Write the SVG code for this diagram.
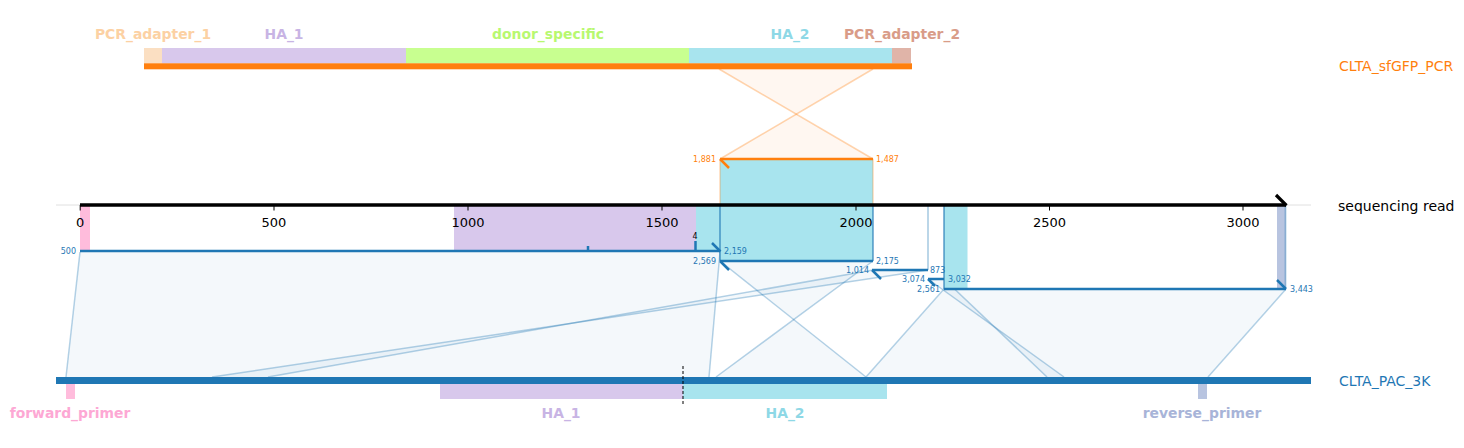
<svg xmlns="http://www.w3.org/2000/svg" width="1464" height="448" viewBox="0 0 1464 448">
<style>
text{font-family:"DejaVu Sans","Liberation Sans",sans-serif}
.feat{font-weight:bold;font-size:13.9px;text-anchor:middle}
.tick{font-size:13px;text-anchor:middle;fill:#000}
.num{font-size:8px;fill:#1f77b4}
.onum{font-size:8px;fill:#ff7f0e}
.ref{font-size:14px}
.aln{stroke:#1f77b4;stroke-width:2.5;fill:none}
.conn{stroke:#1f77b4;stroke-opacity:0.33;stroke-width:1.5;fill:none}
.cfill{fill:#1f77b4;fill-opacity:0.05;stroke:none}
.oconn{stroke:#ff7f0e;stroke-opacity:0.33;stroke-width:1.5;fill:none}
.ofill{fill:#ff7f0e;fill-opacity:0.06;stroke:none}
.edge{stroke:#1f77b4;stroke-opacity:0.55;stroke-width:2}
.ledge{stroke:#1f77b4;stroke-opacity:0.3;stroke-width:2}
</style>
<rect width="1464" height="448" fill="#fff"/>

<g id="connectors">
  <polygon class="ofill" points="720,159 873,159 719,69 873,69"/>
  <line class="oconn" x1="720" y1="159" x2="873" y2="69"/>
  <line class="oconn" x1="873" y1="159" x2="719" y2="69"/>

  <polygon class="cfill" points="80,252 720,252 709,377 66,377"/>
  <line class="conn" x1="80" y1="252" x2="66" y2="377"/>
  <line class="conn" x1="720" y1="252" x2="709" y2="377"/>

  <polygon class="cfill" points="720,261 873,261 716,377 866,377"/>
  <line class="conn" x1="720" y1="261" x2="866" y2="377"/>
  <line class="conn" x1="873" y1="261" x2="716" y2="377"/>

  <polygon class="cfill" points="873,270 928,270 212,377 268,377"/>
  <line class="conn" x1="873" y1="270" x2="268" y2="377"/>
  <line class="conn" x1="928" y1="270" x2="212" y2="377"/>

  <polygon class="cfill" points="928,279 944,279 1047,377 1064,377"/>
  <line class="conn" x1="928" y1="279" x2="1064" y2="377"/>
  <line class="conn" x1="944" y1="279" x2="1047" y2="377"/>

  <polygon class="cfill" points="944,289 1286,289 1208,377 866,377"/>
  <line class="conn" x1="944" y1="289" x2="866" y2="377"/>
  <line class="conn" x1="1286" y1="289" x2="1208" y2="377"/>
</g>

<g id="ref-top">
  <rect x="144" y="48" width="18" height="15.5" fill="#fbdfc2"/>
  <rect x="162" y="48" width="244" height="15.5" fill="#d8c8ec"/>
  <rect x="406" y="48" width="283" height="15.5" fill="#c8ff90"/>
  <rect x="689" y="48" width="203" height="15.5" fill="#a8e4ee"/>
  <rect x="892" y="48" width="19" height="15.5" fill="#e0b4a8"/>
  <rect x="144" y="63.3" width="768" height="6" fill="#ff7f0e"/>
  <text class="feat" x="153" y="39" fill="#fcd1a3">PCR_adapter_1</text>
  <text class="feat" x="284" y="39" fill="#c8b4e4">HA_1</text>
  <text class="feat" x="548" y="39" fill="#b8f870">donor_specific</text>
  <text class="feat" x="790" y="39" fill="#8ed8e6">HA_2</text>
  <text class="feat" x="902" y="39" fill="#d99c88">PCR_adapter_2</text>
  <text class="ref" x="1339" y="71" fill="#ff7f0e">CLTA_sfGFP_PCR</text>
</g>

<g id="read-features">
  <rect x="80" y="205" width="10" height="46" fill="#ffbcdc"/>
  <rect x="454" y="205" width="242" height="46" fill="#d8c8ec"/>
  <rect x="696" y="205" width="24" height="46" fill="#a8e4ee"/>
  <rect x="720" y="159" width="153" height="102" fill="#a8e4ee"/>
  <rect x="944" y="205" width="23.5" height="84" fill="#a8e4ee"/>
  <rect x="1277" y="205" width="9" height="84" fill="#b8c4e0"/>
  <line x1="720" y1="159" x2="720" y2="205" stroke="#ff7f0e" stroke-opacity="0.3" stroke-width="1.5"/>
  <line x1="873" y1="159" x2="873" y2="205" stroke="#ff7f0e" stroke-opacity="0.3" stroke-width="1.5"/>
  <line class="edge" x1="720" y1="205" x2="720" y2="261"/>
  <line class="edge" x1="873" y1="205" x2="873" y2="261"/>
  <line class="ledge" x1="928" y1="205" x2="928" y2="270"/>
  <line class="edge" x1="944" y1="205" x2="944" y2="289"/>
  <line class="ledge" x1="1285.5" y1="205" x2="1285.5" y2="289"/>
</g>

<g id="alignments">
  <line x1="720" y1="159" x2="873" y2="159" stroke="#ff7f0e" stroke-width="2.5"/>
  <line x1="720" y1="159" x2="729" y2="168" stroke="#ff7f0e" stroke-width="2.5"/>
  <text class="onum" x="716" y="162" text-anchor="end">1,881</text>
  <text class="onum" x="876" y="162">1,487</text>

  <line class="aln" x1="80" y1="251" x2="720" y2="251"/>
  <line class="aln" x1="588" y1="246" x2="588" y2="251"/>
  <line class="aln" x1="695.5" y1="241" x2="695.5" y2="251"/>
  <line class="aln" x1="712" y1="243" x2="720.5" y2="251.5"/>
  <text x="695" y="239" font-size="8" text-anchor="middle" fill="#000">4</text>
  <text class="num" x="76" y="254" text-anchor="end">500</text>
  <text class="num" x="724" y="254">2,159</text>

  <line class="aln" x1="720" y1="261" x2="873" y2="261"/>
  <line class="aln" x1="720" y1="261" x2="729" y2="270"/>
  <text class="num" x="716" y="264" text-anchor="end">2,569</text>
  <text class="num" x="876" y="264">2,175</text>

  <line class="aln" x1="872" y1="270" x2="928" y2="270"/>
  <line class="aln" x1="872" y1="270" x2="881" y2="279"/>
  <text class="num" x="869" y="273" text-anchor="end">1,014</text>
  <text class="num" x="930" y="273">873</text>

  <line class="aln" x1="928" y1="279" x2="944" y2="279"/>
  <line class="aln" x1="928" y1="279" x2="935" y2="286"/>
  <text class="num" x="925" y="282" text-anchor="end">3,074</text>
  <text class="num" x="948" y="282">3,032</text>

  <line class="aln" x1="944" y1="289" x2="1286" y2="289"/>
  <line class="aln" x1="1277" y1="280" x2="1286" y2="289"/>
  <text class="num" x="940" y="292" text-anchor="end">2,561</text>
  <text class="num" x="1290" y="292">3,443</text>
</g>

<g id="read">
  <line x1="56" y1="205" x2="1311" y2="205" stroke="#e0e0e0" stroke-width="1"/>
  <line x1="80" y1="205" x2="1286" y2="205" stroke="#000" stroke-width="3.4"/>
  <line x1="1276" y1="195" x2="1286.5" y2="205.5" stroke="#000" stroke-width="3.2"/>
  <g stroke="#000" stroke-width="1">
    <line x1="80.2" y1="205" x2="80.2" y2="210.5"/>
    <line x1="274" y1="205" x2="274" y2="210.5"/>
    <line x1="468" y1="205" x2="468" y2="210.5"/>
    <line x1="662" y1="205" x2="662" y2="210.5"/>
    <line x1="856" y1="205" x2="856" y2="210.5"/>
    <line x1="1049.5" y1="205" x2="1049.5" y2="210.5"/>
    <line x1="1243" y1="205" x2="1243" y2="210.5"/>
  </g>
  <text class="tick" x="80.2" y="227">0</text>
  <text class="tick" x="274" y="227">500</text>
  <text class="tick" x="468" y="227">1000</text>
  <text class="tick" x="662" y="227">1500</text>
  <text class="tick" x="856" y="227">2000</text>
  <text class="tick" x="1049.5" y="227">2500</text>
  <text class="tick" x="1243" y="227">3000</text>
  <text class="ref" x="1338" y="211" fill="#000">sequencing read</text>
</g>

<g id="ref-bottom">
  <rect x="56" y="377" width="1255" height="7" fill="#1f77b4"/>
  <rect x="66" y="384" width="9" height="15" fill="#ffbcdc"/>
  <rect x="440" y="384" width="243" height="15" fill="#d8c8ec"/>
  <rect x="683" y="384" width="204" height="15" fill="#a8e4ee"/>
  <rect x="1198" y="384" width="9" height="15" fill="#b8c4e0"/>
  <line x1="683" y1="366" x2="683" y2="404" stroke="#000" stroke-width="1" stroke-dasharray="3,2"/>
  <text class="feat" x="70" y="418" fill="#fda8d4">forward_primer</text>
  <text class="feat" x="561" y="418" fill="#c8b4e4">HA_1</text>
  <text class="feat" x="785" y="418" fill="#8ed8e6">HA_2</text>
  <text class="feat" x="1202" y="418" fill="#a8b4d8">reverse_primer</text>
  <text class="ref" x="1339" y="386" fill="#1f77b4">CLTA_PAC_3K</text>
</g>
</svg>
